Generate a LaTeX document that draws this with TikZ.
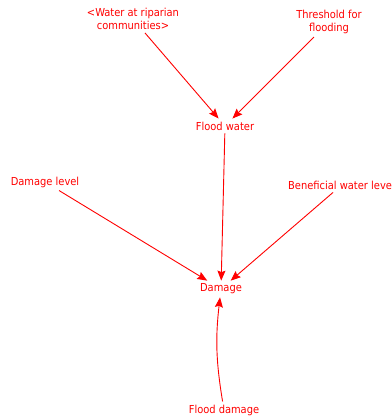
\documentclass[tikz,border=0pt]{standalone}
\usepackage{fontspec}
\setmainfont{DejaVu Sans Condensed}
\usetikzlibrary{arrows.meta}
\definecolor{linkred}{RGB}{255,0,0}
\tikzset{
  var/.style={text=linkred, font=\fontsize{11}{13}\selectfont, align=center, inner sep=3pt},
  link/.style={draw=linkred, line width=0.9pt, -{Stealth[length=10pt,width=8pt,inset=1.5pt]}}
}
\begin{document}
\begin{tikzpicture}[x=1pt,y=-1pt]
  \useasboundingbox (0,0) rectangle (391,419);
  % variables
  \node[var] (water)  at (133,19)  {<Water at riparian\\communities>};
  \node[var] (thresh) at (329,22)  {Threshold for\\flooding};
  \node[var] (flood)  at (225,126) {Flood water};
  \node[var] (dlevel) at (45,182)  {Damage level};
  \node[var, anchor=west] (benef) at (285,185) {Beneficial water level};
  \node[var] (damage) at (221,289) {Damage};
  \node[var] (fdmg)   at (224,410) {Flood damage};
  % the long label runs past the right edge, so its link leaves from below the text
  \path (benef.south west) ++(48,0) coordinate (bsrc);
  % causal links
  \draw[link] (water)  -- (flood);
  \draw[link] (thresh) -- (flood);
  \draw[link] (flood)  -- (damage);
  \draw[link] (dlevel) -- (damage);
  \draw[link] (bsrc)   -- (damage);
  \draw[link] (fdmg) to[bend left=8] (damage);
\end{tikzpicture}
\end{document}
